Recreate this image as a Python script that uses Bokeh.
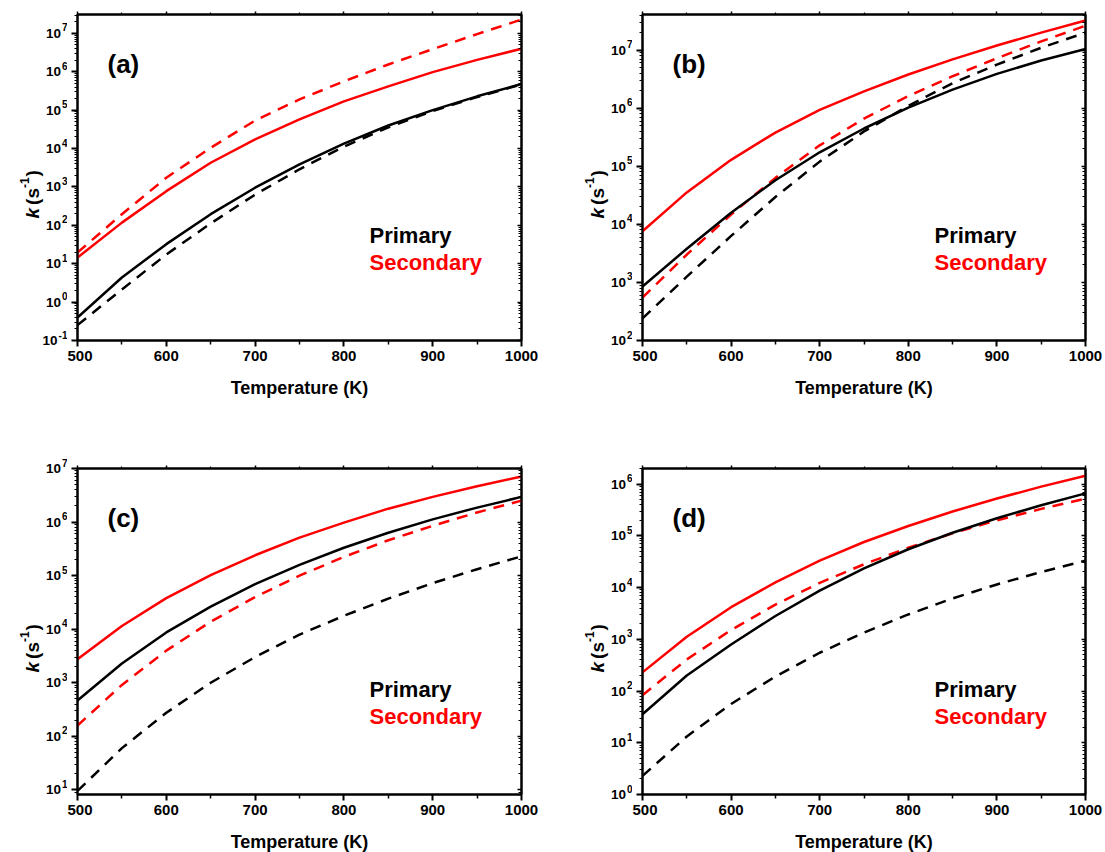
import math
from bokeh.plotting import figure
from bokeh.models import Range1d, FixedTicker, Label, LinearAxis, LogAxis, CustomJSTickFormatter
from bokeh.layouts import row, column
from bokeh.embed import file_html
from bokeh.resources import INLINE

FONT = "Liberation Sans"
RED = "#ff0000"
BLACK = "#000000"

# ---------------- data (log10 of k in s^-1) ----------------
temperature = [500, 550, 600, 650, 700, 750, 800, 850, 900, 950, 1000]
x_ticks = [500, 600, 700, 800, 900, 1000]
x_minor_ticks = [550, 650, 750, 850, 950]

# panel (a)
a_primary_solid = [-0.40, 0.64, 1.51, 2.29, 2.98, 3.59, 4.13, 4.60, 5.00, 5.36, 5.68]
a_primary_dash = [-0.60, 0.33, 1.24, 2.05, 2.80, 3.46, 4.05, 4.55, 4.98, 5.34, 5.67]
a_secondary_solid = [1.16, 2.07, 2.89, 3.63, 4.24, 4.76, 5.23, 5.62, 5.99, 6.31, 6.60]
a_secondary_dash = [1.29, 2.29, 3.24, 4.02, 4.73, 5.28, 5.75, 6.19, 6.59, 6.98, 7.36]
a_decades = [-1, 0, 1, 2, 3, 4, 5, 6, 7]

# panel (b)
b_primary_solid = [2.93, 3.58, 4.20, 4.76, 5.24, 5.65, 6.01, 6.32, 6.59, 6.82, 7.02]
b_primary_dash = [2.38, 3.10, 3.80, 4.47, 5.08, 5.60, 6.04, 6.43, 6.75, 7.04, 7.30]
b_secondary_solid = [3.88, 4.55, 5.11, 5.58, 5.97, 6.29, 6.58, 6.84, 7.08, 7.30, 7.51]
b_secondary_dash = [2.74, 3.48, 4.17, 4.80, 5.36, 5.82, 6.21, 6.55, 6.86, 7.15, 7.42]
b_decades = [2, 3, 4, 5, 6, 7]

# panel (c)
c_primary_solid = [2.67, 3.36, 3.94, 4.42, 4.84, 5.20, 5.52, 5.80, 6.05, 6.27, 6.47]
c_primary_dash = [0.98, 1.78, 2.44, 3.00, 3.48, 3.90, 4.25, 4.57, 4.86, 5.12, 5.36]
c_secondary_solid = [3.44, 4.06, 4.58, 5.01, 5.38, 5.71, 5.99, 6.25, 6.47, 6.67, 6.85]
c_secondary_dash = [2.20, 2.96, 3.60, 4.14, 4.60, 5.00, 5.35, 5.66, 5.93, 6.18, 6.40]
c_decades = [1, 2, 3, 4, 5, 6, 7]

# panel (d)
d_primary_solid = [1.55, 2.30, 2.90, 3.45, 3.94, 4.37, 4.74, 5.06, 5.34, 5.59, 5.82]
d_primary_dash = [0.36, 1.12, 1.75, 2.28, 2.74, 3.13, 3.48, 3.79, 4.06, 4.30, 4.52]
d_secondary_solid = [2.36, 3.05, 3.62, 4.10, 4.52, 4.88, 5.19, 5.47, 5.72, 5.95, 6.16]
d_secondary_dash = [1.92, 2.61, 3.18, 3.67, 4.09, 4.45, 4.77, 5.05, 5.30, 5.52, 5.72]
d_decades = [0, 1, 2, 3, 4, 5, 6]

panel_tags = ["(a)", "(b)", "(c)", "(d)"]
y_limits = [(0.1, 3.1e7), (100.0, 4.1e7), (8.2, 1.0e7), (1.0, 2.0e6)]
legend_texts = ["Primary", "Secondary"]
x_title = "Temperature (K)"

DASH = "11 8"
STRIP_W = 67


def blank_formatter():
    return CustomJSTickFormatter(code="return ''")


def log_minor(lo, hi):
    out = []
    for e in range(math.floor(math.log10(lo)) - 1, math.ceil(math.log10(hi)) + 1):
        for m in range(2, 10):
            v = m * 10.0 ** e
            if lo <= v <= hi:
                out.append(v)
    return out


def lbl(x, y, text, size, style="bold", color=BLACK, align="left",
        baseline="alphabetic", xo=0, yo=0, angle=0.0):
    return Label(x=x, y=y, x_offset=xo, y_offset=yo, text=text, angle=angle,
                 text_align=align, text_baseline=baseline, text_font=FONT,
                 text_font_style=style, text_font_size=f"{size}px",
                 text_color=color)


def make_strip(ylim, panel_range, decades, height, top_b, bottom_b):
    """Narrow figure left of a panel carrying the y tick labels and the y title.
    Its log scale is the panel's scale stretched over the full figure height."""
    lo, hi = ylim
    frame_h = height - top_b - bottom_b
    dpp = (math.log10(hi) - math.log10(lo)) / frame_h
    s_lo = 10.0 ** (math.log10(lo) - bottom_b * dpp)
    s_hi = 10.0 ** (math.log10(hi) + top_b * dpp)
    common = dict(width=STRIP_W, height=height, x_range=Range1d(0, 1),
                  y_axis_type="log", x_axis_location=None, y_axis_location=None,
                  output_backend="svg", toolbar_location=None,
                  min_border_left=0, min_border_right=0)
    try:
        s = figure(y_range=Range1d(s_lo, s_hi), min_border_top=0, min_border_bottom=0,
                   frame_align=False, **common)
    except Exception:
        s = figure(y_range=panel_range, min_border_top=top_b,
                   min_border_bottom=bottom_b, **common)
    s.outline_line_color = None
    s.background_fill_color = "white"
    s.border_fill_color = "white"
    for g in s.grid:
        g.visible = False
    for e in decades:
        exp_txt = str(e)
        exp_w = sum(3.4 if ch == "-" else 5.6 for ch in exp_txt)
        s.add_layout(lbl(1, 10.0 ** e, "10", 13.5, align="right", baseline="middle",
                         xo=-(exp_w + 1)))
        s.add_layout(lbl(1, 10.0 ** e, exp_txt, 10, align="right", baseline="middle",
                         xo=0, yo=6))
    # y title: k (s^-1), rotated, reading upward
    base = 122
    fs = 19
    pieces = [("k", "bold italic", fs, 0, 0.556 * fs + 3),
              ("(s", "bold", fs, 0, 0.889 * fs),
              ("-1", "bold", 12, -8, 0.889 * 12 + 1),
              (")", "bold", fs, 0, 0.333 * fs)]
    cum = 0.0
    for txt, style, size, dx, w in pieces:
        s.add_layout(lbl(0, lo, txt, size, style=style, xo=32 + dx,
                         yo=base + cum, angle=math.pi / 2))
        cum += w
    return s


def make_panel(tag, ylim, decades, series, width, height, borders):
    left_b, right_b, top_b, bottom_b = borders
    lo, hi = ylim
    p = figure(width=width, height=height, x_range=Range1d(500, 1000),
               y_range=Range1d(lo, hi), y_axis_type="log",
               output_backend="svg", toolbar_location=None,
               min_border_left=left_b, min_border_right=right_b,
               min_border_top=top_b, min_border_bottom=bottom_b)
    p.xgrid.visible = False
    p.ygrid.visible = False
    p.outline_line_color = BLACK
    p.outline_line_width = 2
    p.background_fill_color = "white"
    p.border_fill_color = "white"

    yticks = [10.0 ** e for e in decades]
    yminor = log_minor(lo, hi)

    xa = p.xaxis[0]
    xa.ticker = FixedTicker(ticks=x_ticks, minor_ticks=x_minor_ticks)
    xa.axis_line_width = 2
    xa.major_tick_line_width = 2
    xa.minor_tick_line_width = 1.5
    xa.major_tick_out = 6
    xa.major_tick_in = 0
    xa.minor_tick_out = 4
    xa.minor_tick_in = 0
    xa.major_label_text_font = FONT
    xa.major_label_text_font_style = "bold"
    xa.major_label_text_font_size = "15px"
    xa.major_label_text_color = BLACK
    xa.major_label_standoff = 4

    ya = p.yaxis[0]
    ya.ticker = FixedTicker(ticks=yticks, minor_ticks=yminor)
    ya.formatter = blank_formatter()
    ya.axis_line_width = 2
    ya.major_tick_line_width = 2
    ya.minor_tick_line_width = 1.2
    ya.major_tick_out = 6
    ya.major_tick_in = 0
    ya.minor_tick_out = 3
    ya.minor_tick_in = 0
    ya.major_label_text_font_size = "1px"
    ya.major_label_standoff = 0

    top = LinearAxis(ticker=FixedTicker(ticks=x_ticks, minor_ticks=x_minor_ticks),
                     formatter=blank_formatter(), axis_line_width=2,
                     major_tick_out=3, major_tick_in=0, minor_tick_out=2, minor_tick_in=0,
                     major_tick_line_width=1.5, minor_tick_line_width=1.2,
                     major_label_text_font_size="1px", major_label_standoff=0)
    p.add_layout(top, "above")
    right = LogAxis(ticker=FixedTicker(ticks=yticks, minor_ticks=yminor),
                    formatter=blank_formatter(), axis_line_width=2,
                    major_tick_out=0, major_tick_in=4, minor_tick_out=0, minor_tick_in=3,
                    major_tick_line_width=1.5, minor_tick_line_width=1.2,
                    major_label_text_font_size="1px", major_label_standoff=0)
    p.add_layout(right, "right")

    pri_solid, pri_dash, sec_solid, sec_dash = series
    for vals, col, dash in [(pri_dash, BLACK, DASH), (sec_dash, RED, DASH),
                            (pri_solid, BLACK, "solid"), (sec_solid, RED, "solid")]:
        p.line(temperature, [10.0 ** v for v in vals], line_color=col,
               line_width=2.5, line_dash=dash, line_join="round")

    p.add_layout(lbl(500, hi, tag, 26, xo=30, yo=-49))
    p.add_layout(lbl(500, lo, legend_texts[0], 22, xo=292, yo=105))
    p.add_layout(lbl(500, lo, legend_texts[1], 22, color=RED, xo=292, yo=78.5))
    p.add_layout(lbl(750, lo, x_title, 18, align="center", baseline="middle", yo=-47),
                 "below")
    return p


rows_spec = [
    (0, a_decades, (a_primary_solid, a_primary_dash, a_secondary_solid, a_secondary_dash),
     498, 420, (10, 44, 14, 80)),
    (1, b_decades, (b_primary_solid, b_primary_dash, b_secondary_solid, b_secondary_dash),
     473, 420, (10, 20, 14, 80)),
    (2, c_decades, (c_primary_solid, c_primary_dash, c_secondary_solid, c_secondary_dash),
     498, 432, (10, 44, 48, 58)),
    (3, d_decades, (d_primary_solid, d_primary_dash, d_secondary_solid, d_secondary_dash),
     473, 432, (10, 20, 48, 58)),
]

cells = []
for i, decades, series, w, h, borders in rows_spec:
    panel = make_panel(panel_tags[i], y_limits[i], decades, series, w, h, borders)
    strip = make_strip(y_limits[i], panel.y_range, decades, h, borders[2], borders[3])
    cells.append((strip, panel))

layout = column(row(cells[0][0], cells[0][1], cells[1][0], cells[1][1]),
                row(cells[2][0], cells[2][1], cells[3][0], cells[3][1]))

with open("out.html", "w") as f:
    f.write(file_html(layout, INLINE))
